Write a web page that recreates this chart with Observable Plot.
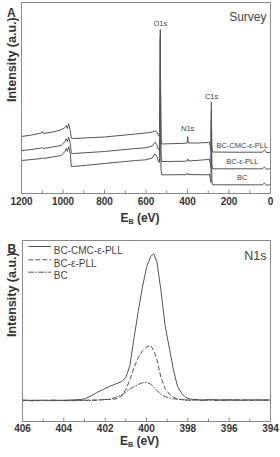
<!DOCTYPE html>
<html>
<head>
<meta charset="utf-8">
<script src="https://cdn.jsdelivr.net/npm/d3@7"></script>
<script src="https://cdn.jsdelivr.net/npm/@observablehq/plot@0.6"></script>
<style>
  html, body { margin: 0; padding: 0; background: white; }
  #chart { width: 280px; height: 457px; overflow: hidden; }
  #chart svg { display: block; }
</style>
</head>
<body>
<div id="chart"></div>
<script>
// ---------- Panel A: survey spectra ----------
const surveyEV = [1200,1150,1105,1100,1095,1050,1010,990,984,979,973,965,960,950,800,650,600,570,556,548,540,535,532,531,530,528,525,500,410,402,399,396,350,300,295,290,287,285,283,280,200,40,28,25,20,0];
const surveyCMC = [57,58.5,60.5,62,60,61.5,63.5,66,68,65,69.7,63,55.3,55,56.5,59.5,60.5,61.5,62.5,61.5,58,57,113,164,113,55,49.5,49.7,50.2,50.5,57,50.5,50.5,51,51.5,47,43,91.3,48,41.5,41.3,41.3,43.5,43,41,41];
const surveyPLL = [43,44,45.5,46,45,46.5,48,52,54.7,52,56.3,50,40.3,40,42,45,45.7,47.5,51.3,49,44,43,108,158,108,38,32,32,32.3,32.5,34.7,32.5,33.2,34,34.5,30,26,83,30,24.7,24.7,24.7,26.5,26,24.5,24.5];
const surveyBC = [33,34,35,35.5,35,36.5,38,42,45,42,47,40,27,27,30,33,33.7,35.5,39.7,37,32,31,103,153,103,25,18.7,18.7,18.8,19,20.3,19,18.8,18.7,19.5,15,11,73,15,8.7,8.7,8.7,10.5,10,8.5,8.5];
const surveyNames = ["BC-CMC-ε-PLL", "BC-ε-PLL", "BC"];
const surveyTicks = [1200,1000,800,600,400,200,0];
const surveyMinor = [1100,900,700,500,300,100];
const peakNames = ["O1s", "N1s", "C1s"];
const peakEV = [531, 399, 284];
const peakLabelY = [169.7, 64.7, 97.3];
const seriesLabelEV = [136, 136, 136];
const seriesLabelY = [48, 32, 15.7];

// ---------- Panel B: N1s high resolution ----------
const n1sEV = [406,405.5,405,404.5,404,403.5,403,402.7,402.4,402.1,401.8,401.5,401.2,401.0,400.8,400.6,400.4,400.2,400.0,399.8,399.65,399.5,399.3,399.1,398.9,398.7,398.5,398.3,398.1,397.9,397.6,397.3,397,396.5,396,395.5,395,394.5,394];
const n1sCMC = [21.5,21.0,21.4,20.8,21.3,21.6,22.5,25.5,29,32,35,37.5,40,44,56,84,110,134,154,165,167.7,160,131,96,74,52,35,28,24,22.5,21.8,21.5,22,21.4,21.8,21.2,21.7,21.3,21.6];
const n1sPLL = [21.2,20.6,21.0,21.3,20.7,21.2,21.0,21.5,21.3,21.8,22,22.5,25.5,32,42,54,64,70.5,74.5,76,71,62,44,33,27.5,24.5,22.7,22,21.6,21.3,21.8,21.2,21.6,21.0,21.5,21.8,21.1,21.6,21.2];
const n1sBC = [20.8,21.3,20.9,21.4,21.0,20.8,21.3,21.0,21.5,21.8,22.3,24,26.5,29.5,32.5,35,37,38.7,39.3,37.5,34.3,31,27.5,25,23.5,22.7,22.2,21.8,21.5,21.2,21.6,21.0,21.4,21.7,21.1,21.5,21.2,21.7,21.3];
const n1sNames = ["BC-CMC-ε-PLL", "BC-ε-PLL", "BC"];
const n1sDash = [null, "4,3", "5,2,1,2"];
const n1sTicks = [406,404,402,400,398,396,394];
const n1sMinor = [405,403,401,399,397,395];

const FONT = "'Liberation Sans', Arial, Helvetica, sans-serif";
const LINE = "#555";
const FRAME = "#8a8a8a";
const TEXT = "#333";

function rows(xs, seriesArr, names) {
  const out = [];
  seriesArr.forEach((vals, s) => vals.forEach((v, i) => out.push({e: xs[i], v, s: names[s]})));
  return out;
}

function subscriptTitle(svg) {
  svg.querySelectorAll("text").forEach(t => {
    if (t.textContent === "E_B (eV)") {
      t.textContent = "";
      const ns = "http://www.w3.org/2000/svg";
      const a = document.createElementNS(ns, "tspan"); a.textContent = "E";
      const b = document.createElementNS(ns, "tspan"); b.textContent = "B";
      b.setAttribute("font-size", "0.6em"); b.setAttribute("dy", "0.3em");
      const c = document.createElementNS(ns, "tspan"); c.textContent = " (eV)";
      c.setAttribute("dy", "-0.18em");
      t.append(a, b, c);
    }
  });
}

const surveyRows = rows(surveyEV, [surveyCMC, surveyPLL, surveyBC], surveyNames);
const peakRows = peakNames.map((n, i) => ({n, e: peakEV[i], v: peakLabelY[i]}));
const seriesRows = surveyNames.map((n, i) => ({n, e: seriesLabelEV[i], v: seriesLabelY[i]}));
const fmt = d => String(d);

const plotA = Plot.plot({
  width: 280, height: 228,
  marginTop: 2, marginBottom: 35, marginLeft: 21, marginRight: 10,
  style: {fontFamily: FONT, color: TEXT, background: "white", overflow: "visible"},
  x: {domain: [1200, 0]},
  y: {domain: [0, 191], axis: null},
  marks: [
    Plot.ruleX(surveyMinor, {y1: 0, y2: 2.5, stroke: FRAME}),
    Plot.ruleX(surveyTicks, {y1: 0, y2: 3.5, stroke: FRAME}),
    Plot.line(surveyRows, {x: "e", y: "v", z: "s", stroke: LINE, strokeWidth: 1}),
    Plot.frame({stroke: FRAME}),
    Plot.axisX(surveyTicks, {tickSize: 0, tickPadding: 4, tickFormat: fmt, fontSize: 10, fontWeight: "bold", label: null, fill: TEXT}),
    Plot.text(peakRows, {x: "e", y: "v", text: "n", fontSize: 7.5, fill: "#444"}),
    Plot.text(seriesRows, {x: "e", y: "v", text: "n", fontSize: 7.5, fill: "#444"}),
    Plot.text(["Survey"], {frameAnchor: "top-right", dx: -4, dy: 10.3, textAnchor: "end", fontSize: 12, fill: "#444"}),
    Plot.text(["A"], {frameAnchor: "top-left", dx: -14.5, dy: 5.5, fontSize: 12, fontWeight: "bold", fill: TEXT}),
    Plot.text(["Intensity (a.u.)"], {frameAnchor: "left", dx: -10, dy: 4, rotate: -90, fontSize: 12.5, fontWeight: "bold", fill: TEXT}),
    Plot.text(["E_B (eV)"], {frameAnchor: "bottom", dx: -6, dy: 28, fontSize: 12, fontWeight: "bold", fill: TEXT})
  ]
});
subscriptTitle(plotA);

const n1sRows = rows(n1sEV, [n1sCMC, n1sPLL, n1sBC], n1sNames);
const legendDy = [6, 19.3, 31.7];
const lineShape = {draw(context, l) { context.moveTo(0, 0); context.lineTo(0, -l); }};

const legendMarks = n1sNames.flatMap((name, i) => [
  Plot.vector([0], {frameAnchor: "top-left", dx: 6.3, dy: legendDy[i], length: 22, rotate: 90, anchor: "start", shape: lineShape, stroke: LINE, strokeWidth: 1, strokeDasharray: n1sDash[i]}),
  Plot.text([name], {frameAnchor: "top-left", dx: 31.3, dy: legendDy[i], textAnchor: "start", fontSize: 10, fill: "#444"})
]);

const plotB = Plot.plot({
  width: 280, height: 229,
  marginTop: 12, marginBottom: 36, marginLeft: 22, marginRight: 10,
  style: {fontFamily: FONT, color: TEXT, background: "white", overflow: "visible"},
  x: {domain: [406, 394]},
  y: {domain: [0, 181], axis: null},
  marks: [
    Plot.ruleX(n1sMinor, {y1: 0, y2: 2.5, stroke: FRAME}),
    Plot.ruleX(n1sTicks, {y1: 0, y2: 3.5, stroke: FRAME}),
    ...n1sNames.map((name, i) => Plot.line(n1sRows.filter(d => d.s === name), {x: "e", y: "v", stroke: LINE, strokeWidth: 1, strokeDasharray: n1sDash[i]})),
    Plot.frame({stroke: FRAME}),
    Plot.axisX(n1sTicks, {tickSize: 0, tickPadding: 3, tickFormat: fmt, fontSize: 10, fontWeight: "bold", label: null, fill: TEXT}),
    ...legendMarks,
    Plot.text(["N1s"], {frameAnchor: "top-right", dx: -4, dy: 10.7, textAnchor: "end", fontSize: 12.5, fill: "#444"}),
    Plot.text(["B"], {frameAnchor: "top-left", dx: -15, dy: 3.8, fontSize: 12, fontWeight: "bold", fill: TEXT}),
    Plot.text(["Intensity (a.u.)"], {frameAnchor: "left", dx: -11, dy: 6, rotate: -90, fontSize: 12.5, fontWeight: "bold", fill: TEXT}),
    Plot.text(["E_B (eV)"], {frameAnchor: "bottom", dx: -7, dy: 23, fontSize: 12, fontWeight: "bold", fill: TEXT})
  ]
});
subscriptTitle(plotB);

document.getElementById("chart").append(plotA, plotB);
</script>
</body>
</html>
